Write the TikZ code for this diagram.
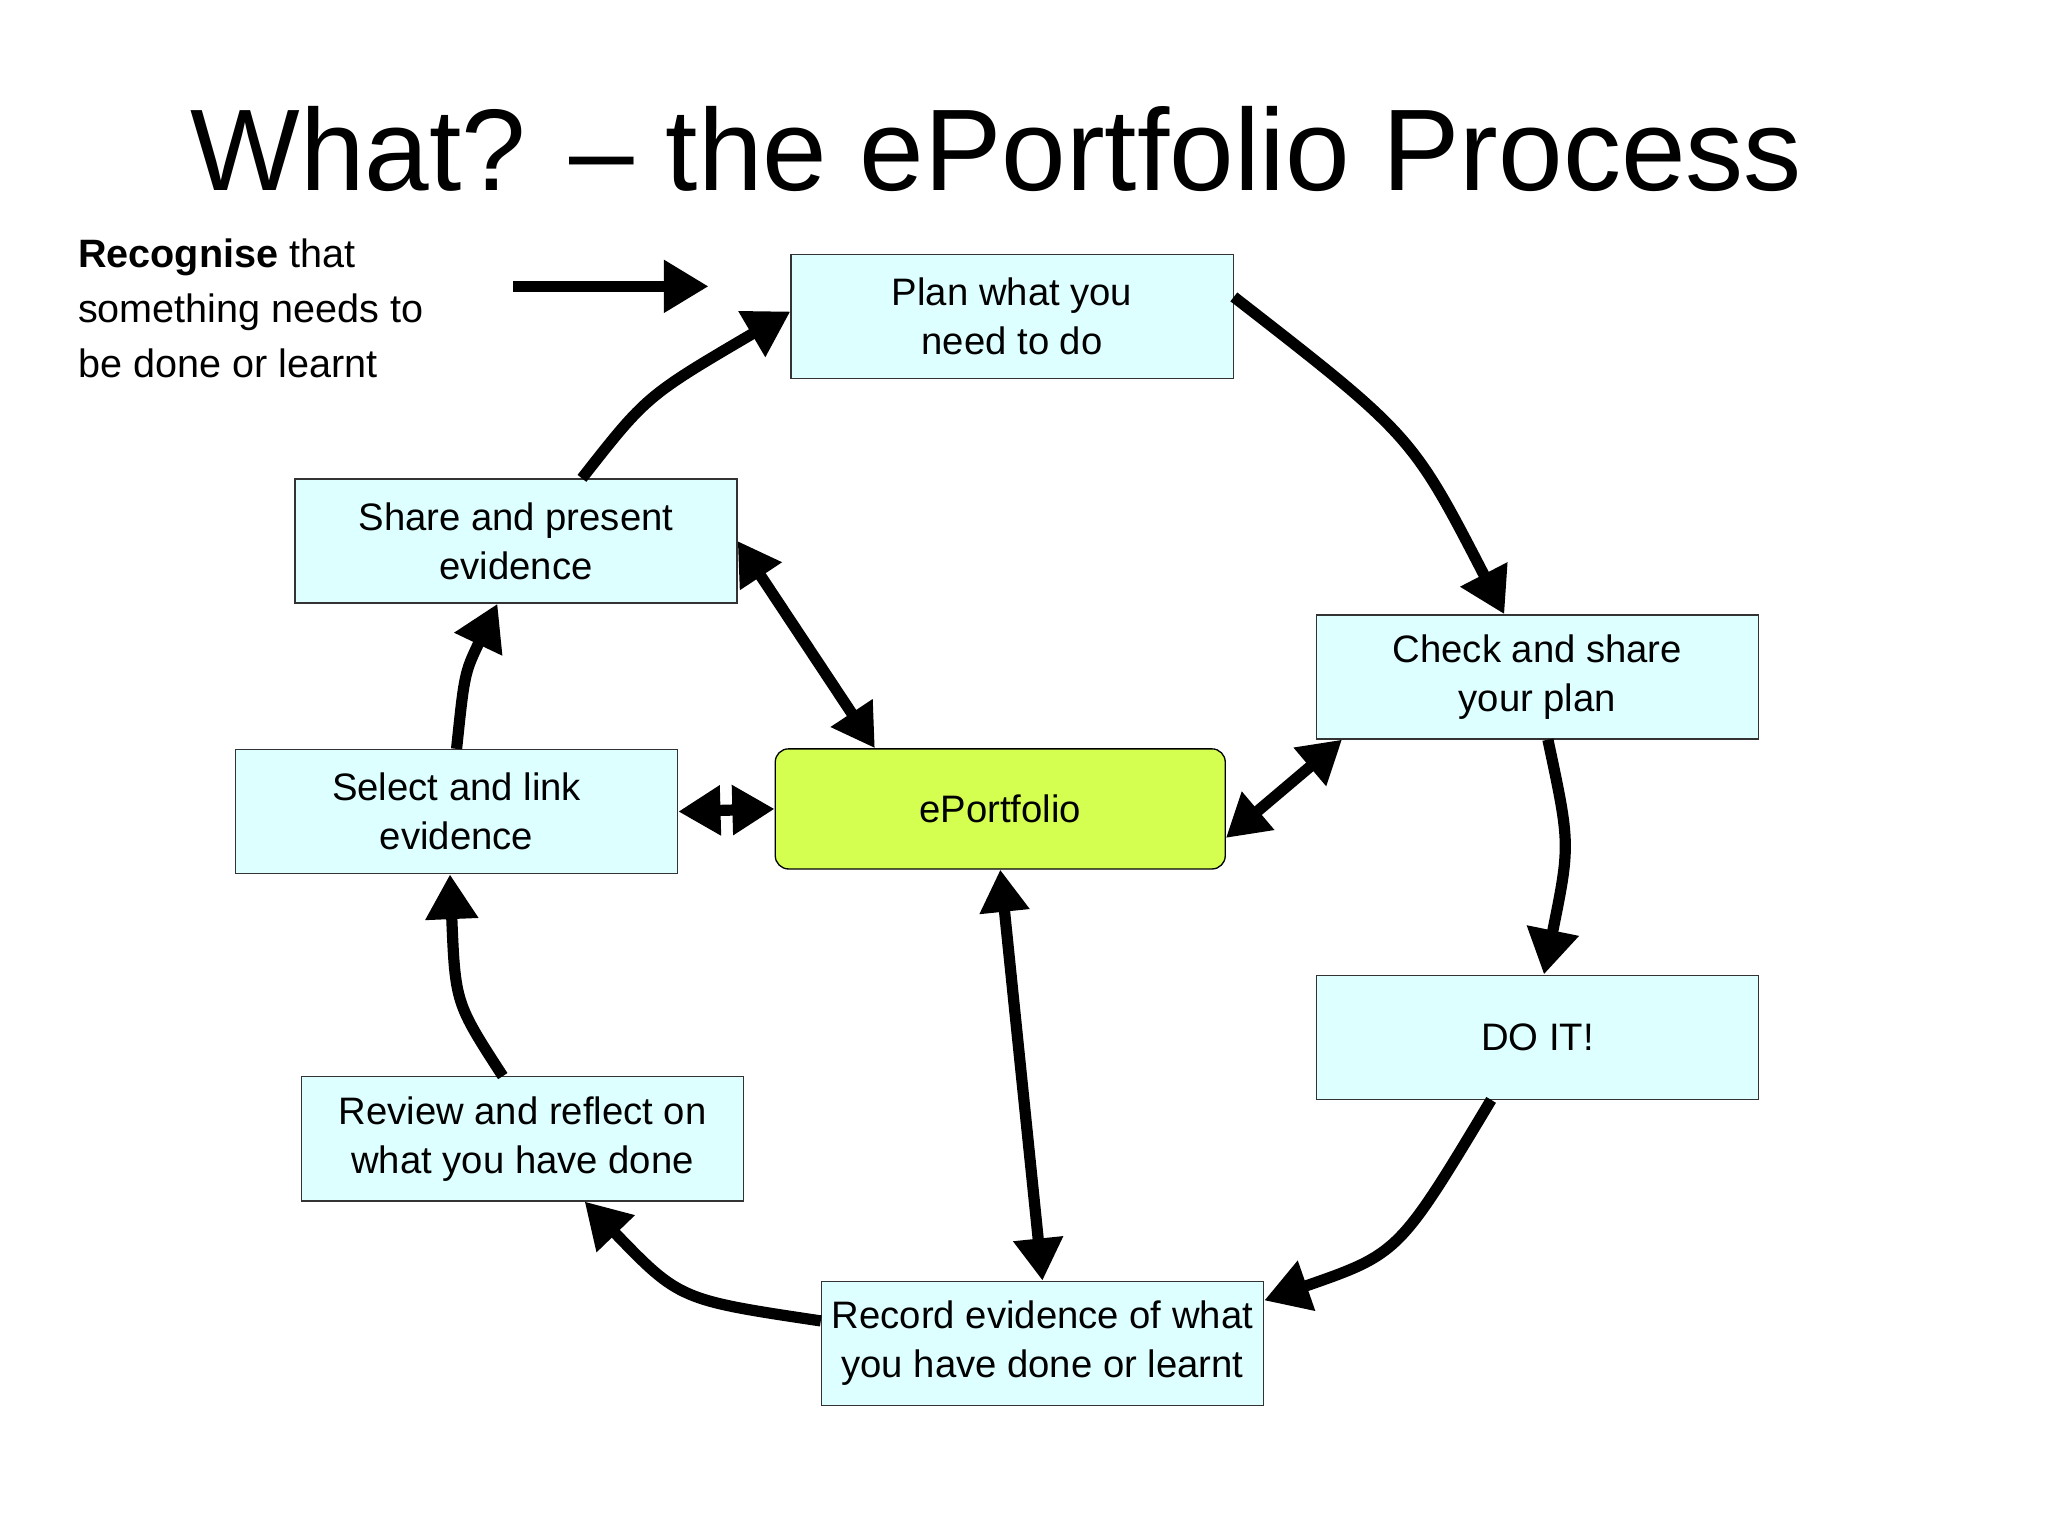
\documentclass[tikz,border=0pt]{standalone}
\usepackage{fontspec}
\setmainfont{Liberation Sans}
\usetikzlibrary{arrows.meta}
\begin{document}
\begin{tikzpicture}[x=1pt,y=-1pt,
  box/.style={draw=black!80,fill={rgb,255:red,222;green,255;blue,255},line width=1pt,minimum width=335pt,minimum height=94pt,align=center,font=\fontsize{29}{37}\selectfont,inner sep=0pt},
  arr/.style={line width=8.5pt,-{Triangle[length=34pt,width=38pt]}},
  darr/.style={line width=8.5pt,{Triangle[length=32pt,width=36pt]}-{Triangle[length=32pt,width=36pt]}}]
\fill[white] (0,0) rectangle (1552,1164);
\useasboundingbox (0,0) rectangle (1552,1164);
\node (title) at (755,113) {\fontsize{88}{100}\selectfont What? -- the ePortfolio Process};
\node[anchor=north west,align=left,font=\fontsize{30}{41.5}\selectfont,inner sep=0pt] (rec) at (59,181) {\textbf{Recognise} that\\something needs to\\be done or learnt};
\node (plan) [box] at (767,240) {Plan what you\\need to do};
\node (share) [box] at (391,410) {Share and present\\evidence};
\node (check) [box] at (1165,513) {Check and share\\your plan};
\node (select) [box] at (346,615) {Select and link\\evidence};
\node (ep) [draw=black,fill={rgb,255:red,212;green,255;blue,80},rounded corners=10pt,line width=1pt,minimum width=341pt,minimum height=91pt,font=\fontsize{29}{37}\selectfont] at (758,613) {ePortfolio};
\node (do) [box] at (1165,786) {DO IT!};
\node (review) [box] at (396,863) {Review and reflect on\\what you have done};
\node (record) [box] at (790,1018) {Record evidence of what\\you have done or learnt};
\coordinate (a0) at (389,217);
\coordinate (a1) at (537,217);
\draw[arr] (a0) -- (a1);
\draw[arr] ([yshift=15pt]plan.east) .. controls (1070,330) .. ([xshift=-25pt]check.north);
\draw[arr] ([xshift=8pt]check.south) .. controls (1190,640) .. ([xshift=5pt]do.north);
\draw[arr] ([xshift=-35pt]do.south) .. controls (1060,950) .. ([yshift=-15pt]record.north east);
\draw[arr] ([yshift=17pt]record.west) .. controls (515,985) .. ([xshift=215pt]review.south west);
\draw[arr] ([xshift=-15pt]review.north) .. controls (345,760) .. ([xshift=-5pt]select.south);
\draw[arr] (select.north) .. controls (352,510) .. ([xshift=-14pt]share.south);
\draw[arr] ([xshift=50pt]share.north) .. controls (490,300) .. ([yshift=4pt]plan.west);
\draw[darr] (share.east) -- ([xshift=-95pt]ep.north);
\draw[darr] (select.east) -- (ep.west);
\draw[darr] ([xshift=20pt]check.south west) -- ([yshift=-22pt]ep.east);
\draw[darr] (ep.south) -- (record.north);
\end{tikzpicture}
\end{document}
